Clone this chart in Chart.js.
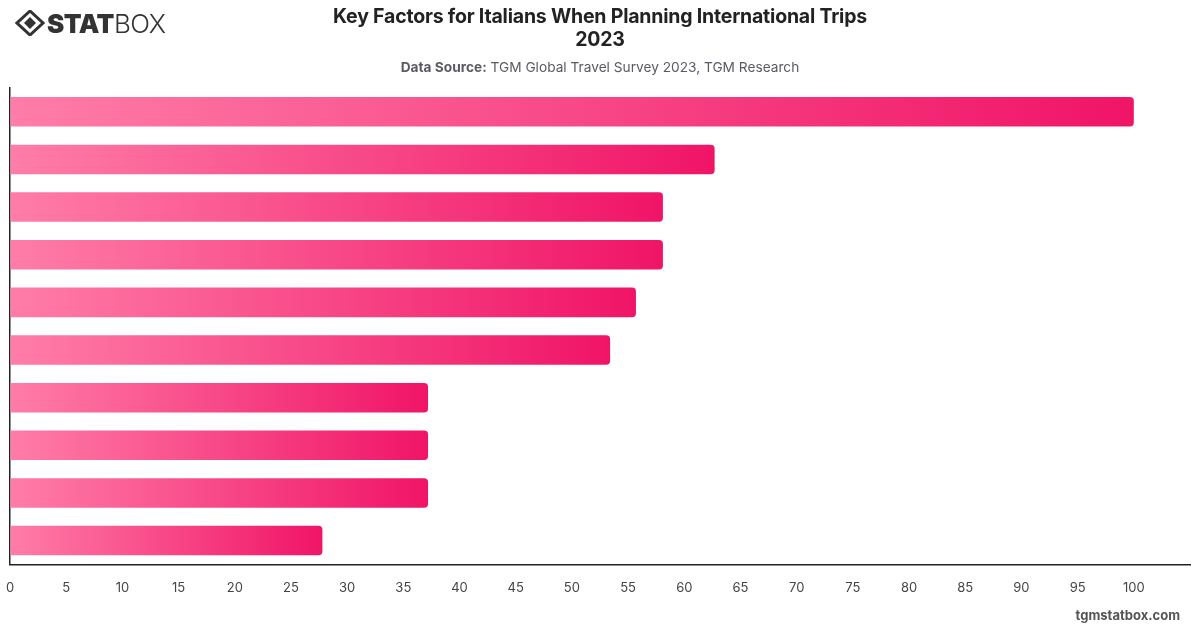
<!DOCTYPE html>
<html>
<head>
<meta charset="utf-8">
<script src="https://cdn.jsdelivr.net/npm/chart.js@4.4.1/dist/chart.umd.min.js"></script>
<style>
html,body{margin:0;padding:0;background:#fff;}
body{width:1200px;height:628px;position:relative;overflow:hidden;font-family:Inter,"Open Sans",Roboto,sans-serif;}
#wrap{position:absolute;left:0;top:0;width:1200px;height:628px;}
#title{position:absolute;left:0;width:1200px;top:5px;text-align:center;font-weight:700;font-size:19.5px;line-height:23px;color:#222;letter-spacing:-0.2px;}
#sub{position:absolute;left:0;width:1200px;top:59px;text-align:center;font-size:13.7px;color:#5a5a66;}
#sub b{font-weight:700;}
#logo{position:absolute;left:15px;top:9px;height:28px;display:flex;align-items:center;color:#333;font-size:26px;letter-spacing:-0.5px;}
#logo .b{font-weight:900;}
#logo .t{font-weight:300;}
#foot{position:absolute;right:20px;top:607px;font-weight:700;font-size:13px;color:#555;}
</style>
</head>
<body>
<div id="wrap"><canvas id="c" width="1200" height="628"></canvas></div>
<div id="logo"><svg width="30" height="26" viewBox="0 0 30 26"><polygon points="15,1 28,13 15,25 2,13" fill="none" stroke="#333" stroke-width="3"/><polygon points="15,7 21,13 15,19 9,13" fill="#333"/></svg><span class="b" style="margin-left:2px">STAT</span><span class="t">BOX</span></div>
<div id="title">Key Factors for Italians When Planning International Trips<br>2023</div>
<div id="sub"><b>Data Source:</b> TGM Global Travel Survey 2023, TGM Research</div>
<div id="foot">tgmstatbox.com</div>
<script>
const categories = ["Factor 1","Factor 2","Factor 3","Factor 4","Factor 5","Factor 6","Factor 7","Factor 8","Factor 9","Factor 10"];
const values = [100, 62.7, 58.1, 58.1, 55.7, 53.4, 37.2, 37.2, 37.2, 27.8];
const tickStep = 5;
const tickMax = 100;

const ctx = document.getElementById('c').getContext('2d');
function barGradient(context){
  const chart = context.chart;
  const x = chart.scales.x;
  if(!x || context.parsed === undefined) return '#f7407f';
  const x0 = x.getPixelForValue(0);
  const x1 = x.getPixelForValue(context.parsed.x);
  if(!isFinite(x0) || !isFinite(x1) || x1 - x0 < 1) return '#f7407f';
  const g = chart.ctx.createLinearGradient(x0, 0, x1, 0);
  g.addColorStop(0, 'rgb(255,125,168)');
  g.addColorStop(1, 'rgb(240,20,103)');
  return g;
}
new Chart(ctx, {
  type: 'bar',
  data: {
    labels: categories,
    datasets: [{
      data: values,
      backgroundColor: barGradient,
      borderRadius: 4,
      borderSkipped: 'start',
      categoryPercentage: 1,
      barPercentage: 0.62
    }]
  },
  options: {
    indexAxis: 'y',
    responsive: false,
    animation: false,
    layout: {padding: {left: 0, top: 88, right: 10, bottom: 28}},
    plugins: {legend: {display: false}, tooltip: {enabled: false}, title: {display: false}},
    scales: {
      x: {
        min: 0, max: 105,
        grid: {display: true, drawOnChartArea: false, drawTicks: true, tickLength: 12, color: 'rgba(0,0,0,0)'},
        border: {display: true, color: '#222', width: 1.5},
        ticks: {
          stepSize: tickStep,
          padding: 4,
          color: '#444',
          font: {family: 'Inter', size: 13},
          callback: v => v > tickMax ? '' : v
        }
      },
      y: {
        grid: {display: false, drawTicks: false},
        border: {display: true, color: '#222', width: 1.5},
        ticks: {display: false},
        afterFit: s => { s.width = 10; }
      }
    }
  }
});
</script>
</body>
</html>
